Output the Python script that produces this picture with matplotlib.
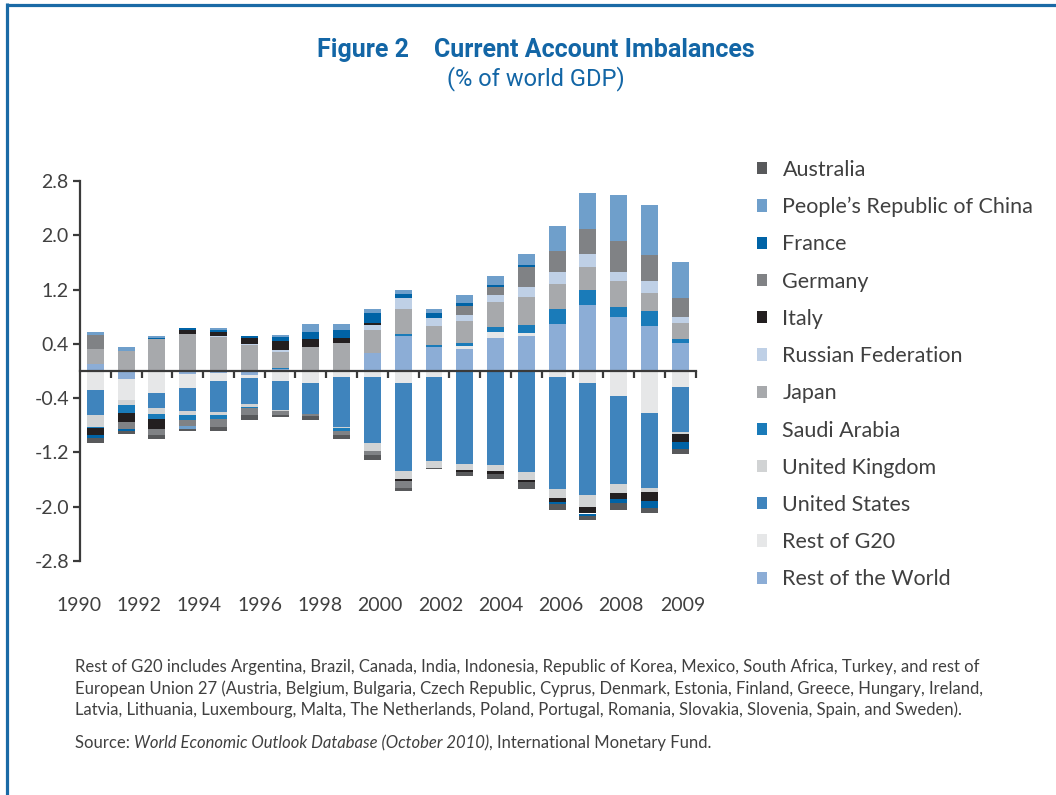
import numpy as np
import matplotlib
matplotlib.use('Agg')
import matplotlib.pyplot as plt
from matplotlib.patches import Patch
from matplotlib.lines import Line2D
import matplotlib.transforms as mtransforms

years = list(range(1990, 2010))

# % of world GDP
rest_world = [0.11, -0.12, 0.0, -0.045, -0.03, -0.065, 0.03, 0.0, 0.0, 0.26,
              0.51, 0.36, 0.33, 0.48, 0.51, 0.70, 0.98, 0.79, 0.66, 0.42]
rest_g20 = [-0.28, -0.31, -0.33, -0.20, -0.12, -0.045, -0.14, -0.17, -0.09, -0.09,
            -0.17, -0.09, 0.045, 0.10, 0.045, -0.09, -0.18, -0.37, -0.62, -0.24]
united_states = [-0.37, 0.0, -0.21, -0.34, -0.46, -0.38, -0.43, -0.47, -0.73, -0.97,
                 -1.30, -1.24, -1.375, -1.39, -1.49, -1.65, -1.64, -1.30, -1.11, -0.66]
united_kingdom = [-0.17, -0.07, -0.10, -0.07, -0.045, -0.045, -0.025, 0.0, -0.015, -0.12,
                  -0.12, -0.10, -0.09, -0.09, -0.12, -0.13, -0.18, -0.13, -0.06, -0.03]
saudi_arabia = [-0.02, -0.12, -0.07, -0.07, -0.045, -0.015, 0.02, 0.0, -0.05, 0.0,
                0.03, 0.03, 0.045, 0.07, 0.13, 0.21, 0.21, 0.16, 0.22, 0.045]
japan = [0.21, 0.30, 0.47, 0.54, 0.50, 0.38, 0.23, 0.35, 0.41, 0.35,
         0.38, 0.27, 0.32, 0.37, 0.41, 0.37, 0.34, 0.38, 0.27, 0.24]
russia = [0.0, 0.0, 0.0, 0.0, 0.015, 0.015, 0.03, 0.0, 0.0, 0.07,
          0.15, 0.12, 0.09, 0.10, 0.15, 0.18, 0.19, 0.13, 0.18, 0.09]
italy = [-0.10, -0.13, -0.15, 0.06, 0.06, 0.09, 0.13, 0.12, 0.07, 0.03,
         -0.03, 0.0, -0.03, -0.045, -0.03, -0.06, -0.10, -0.09, -0.13, -0.12]
germany = [0.21, -0.10, -0.09, -0.09, -0.12, -0.10, -0.05, -0.03, -0.06, -0.06,
           -0.10, 0.0, 0.13, 0.12, 0.29, 0.31, 0.38, 0.46, 0.38, 0.28]
france = [-0.045, -0.03, 0.015, 0.03, 0.03, 0.03, 0.06, 0.10, 0.12, 0.15,
          0.06, 0.07, 0.045, 0.03, 0.03, -0.03, -0.03, -0.06, -0.10, -0.10]
china = [0.044, 0.06, 0.03, -0.045, 0.03, 0.0, 0.03, 0.13, 0.10, 0.06,
         0.06, 0.06, 0.12, 0.13, 0.16, 0.37, 0.53, 0.68, 0.74, 0.53]
australia = [-0.07, -0.045, -0.045, -0.03, -0.06, -0.07, -0.04, -0.045, -0.06, -0.07,
             -0.045, -0.015, -0.045, -0.07, -0.10, -0.09, -0.07, -0.10, -0.07, -0.07]

# stacking order from the zero line outwards
series = [
    ('Rest of the World', rest_world, '#8cadd6'),
    ('Rest of G20', rest_g20, '#e6e7e8'),
    ('United States', united_states, '#3f84bd'),
    ('United Kingdom', united_kingdom, '#d1d3d4'),
    ('Saudi Arabia', saudi_arabia, '#1a7bb9'),
    ('Japan', japan, '#a7a9ac'),
    ('Russian Federation', russia, '#bfd0e6'),
    ('Italy', italy, '#231f20'),
    ('Germany', germany, '#808285'),
    ('France', france, '#0063a6'),
    ('People\u2019s Republic of China', china, '#6f9fcb'),
    ('Australia', australia, '#58595b'),
]

year_labels = ['1990', '1992', '1994', '1996', '1998', '2000', '2002', '2004', '2006', '2008', '2009']
yticks = [2.8, 2.0, 1.2, 0.4, -0.4, -1.2, -2.0, -2.8]

txt = '#404040'
blue = '#1366a6'
body_font = ['Lato', 'DejaVu Sans']
head_font = ['Roboto', 'DejaVu Sans']

fig = plt.figure(figsize=(10.56, 7.95), dpi=100)
ax = fig.add_axes([80 / 1056, 1 - 561 / 795, 615.7 / 1056, 380 / 795])

x = np.arange(len(years))
pos = np.zeros(len(years))
neg = np.zeros(len(years))
for name, vals, col in series:
    v = np.array(vals)
    base = np.where(v >= 0, pos, neg)
    ax.bar(x, v, bottom=base, width=0.55, color=col, linewidth=0, zorder=2)
    pos = pos + np.clip(v, 0, None)
    neg = neg + np.clip(v, None, 0)

ax.set_xlim(-0.5, 19.5)
ax.set_ylim(-2.8, 2.8)
for s in ['top', 'right']:
    ax.spines[s].set_visible(False)
ax.spines['bottom'].set_position(('data', 0))
ax.spines['bottom'].set_zorder(3)
for s in ['left', 'bottom']:
    ax.spines[s].set_color('#3a3a3a')
    ax.spines[s].set_linewidth(1.6)

ax.set_xticks(np.arange(0.5, 20, 1))
ax.set_xticklabels([])
ax.tick_params(axis='x', direction='out', length=5, width=1.6, color='#3a3a3a')
ax.set_yticks(yticks)
ax.set_yticklabels(['%.1f' % t for t in yticks])
ax.tick_params(axis='y', direction='out', length=5, width=1.6, color='#3a3a3a',
               labelsize=14, labelcolor=txt, pad=3)
for lbl in ax.get_yticklabels():
    lbl.set_family(body_font)

# year labels sit under the plot, spaced a little tighter than the bars
lbl_pos = [-0.54 + 0.979 * i for i in range(0, 19, 2)] + [19.07]
trans = mtransforms.blended_transform_factory(ax.transData, ax.transAxes)
for p, s in zip(lbl_pos, year_labels):
    ax.text(p, -0.116, s, transform=trans, ha='center', va='center',
            fontsize=14, color=txt, family=body_font)

# legend, in the order of the reference
handles = [Patch(facecolor=col, edgecolor='none', label=name)
           for name, vals, col in series[::-1]]
fig.legend(handles=handles, loc='upper left', bbox_to_anchor=(748 / 1056, 1 - 151 / 795),
           frameon=False, handlelength=0.5, handleheight=0.5,
           handletextpad=0.7, labelspacing=0.8, borderaxespad=0,
           labelcolor=txt, prop={'family': body_font, 'size': 15.5})

fig.text(536 / 1056, 1 - 50 / 795, 'Figure 2    Current Account Imbalances',
         ha='center', va='center', fontsize=18, fontweight='bold', color=blue,
         family=head_font)
fig.text(536 / 1056, 1 - 79 / 795, '(% of world GDP)', ha='center', va='center',
         fontsize=17, color=blue, family=head_font)

note = ('Rest of G20 includes Argentina, Brazil, Canada, India, Indonesia, Republic of Korea, Mexico, South Africa, Turkey, and rest of\n'
        'European Union 27 (Austria, Belgium, Bulgaria, Czech Republic, Cyprus, Denmark, Estonia, Finland, Greece, Hungary, Ireland,\n'
        'Latvia, Lithuania, Luxembourg, Malta, The Netherlands, Poland, Portugal, Romania, Slovakia, Slovenia, Spain, and Sweden).')
fig.text(75 / 1056, 1 - 659 / 795, note, ha='left', va='top', fontsize=12,
         color=txt, family=body_font, linespacing=1.38)

# source line: plain / italic / plain pieces placed one after another
renderer = fig.canvas.get_renderer()
xpix = 75
for piece, style in [('Source: ', 'normal'),
                     ('World Economic Outlook Database (October 2010)', 'italic'),
                     (', International Monetary Fund.', 'normal')]:
    t = fig.text(xpix / 1056, 1 - 743 / 795, piece, ha='left', va='center', fontsize=12,
                 color=txt, family=body_font, fontstyle=style)
    xpix += t.get_window_extent(renderer).width

# blue frame at top and left
fig.add_artist(Line2D([6 / 1056, 1], [1 - 4.5 / 795, 1 - 4.5 / 795], color='#1a6aa6', lw=2.3,
                      transform=fig.transFigure, solid_capstyle='butt'))
fig.add_artist(Line2D([7 / 1056, 7 / 1056], [1 - 3 / 795, 0], color='#1a6aa6', lw=2.3,
                      transform=fig.transFigure, solid_capstyle='butt'))

fig.savefig('out.png', dpi=100)
